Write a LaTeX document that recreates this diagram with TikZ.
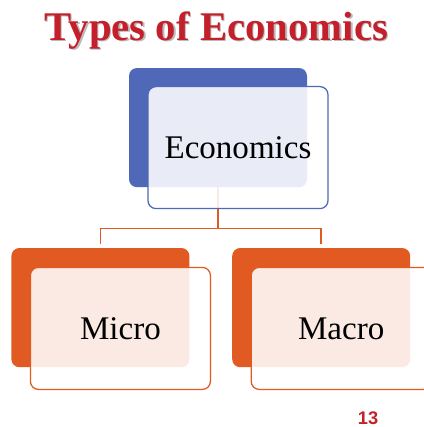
\documentclass[tikz,border=0pt]{standalone}
\usepackage{fontspec}
\setmainfont{Liberation Serif}
\newfontfamily\numfont{Liberation Sans}
\usepackage{xcolor}
\usetikzlibrary{positioning,calc}

\definecolor{ecoblue}{HTML}{5068B8}
\definecolor{ecoorange}{HTML}{E05A22}
\definecolor{titlered}{HTML}{C4202C}

\tikzset{
	backbox/.style={rounded corners=0.2cm,minimum width=4.45cm,minimum height=2.98cm,inner sep=0pt},
	frontbox/.style={rounded corners=0.2cm,minimum width=4.5cm,minimum height=3.05cm,inner sep=0pt,
		fill=white,fill opacity=0.88,text opacity=1,line width=0.9pt,font=\fontsize{23.5}{28}\selectfont},
	connector/.style={ecoorange,line width=1pt}
}

\begin{document}
\begin{tikzpicture}
	\useasboundingbox (0,0) rectangle (10.6,-10.675);
	% title
	\node[anchor=base,text=black!45,opacity=0.6,font=\fontsize{29}{34}\selectfont\bfseries] (titleshadow) at (5.44,-1.03) {Types of Economics};
	\node[anchor=base,text=titlered,font=\fontsize{29}{34}\selectfont\bfseries] (title) at (5.41,-1.0) {Types of Economics};
	% back boxes
	\node[backbox,fill=ecoblue] (ecoback) at (5.45,-3.19) {};
	\node[backbox,fill=ecoorange] (microback) at (2.51,-7.69) {};
	\node[backbox,fill=ecoorange] (macroback) at (8.03,-7.69) {};
	% connectors
	\coordinate (fork) at ([yshift=-1.03cm]ecoback.south);
	\draw[connector] (ecoback.south) -- (fork);
	\draw[connector] ([yshift=0.1cm]microback.north) |- (fork) -| ([yshift=0.1cm]macroback.north);
	% front boxes
	\node[frontbox,draw=ecoblue] (econ) at ([shift={(0.5,-0.5)}]ecoback.center) {Economics};
	\node[frontbox,draw=ecoorange] (micro) at ([shift={(0.5,-0.52)}]microback.center) {Micro};
	\node[frontbox,draw=ecoorange] (macro) at ([shift={(0.5,-0.52)}]macroback.center) {Macro};
	% page number
	\node[anchor=base,text=titlered,font=\numfont\bfseries\fontsize{13}{15}\selectfont] (pagenum) at (9.2,-10.6) {13};
\end{tikzpicture}
\end{document}
